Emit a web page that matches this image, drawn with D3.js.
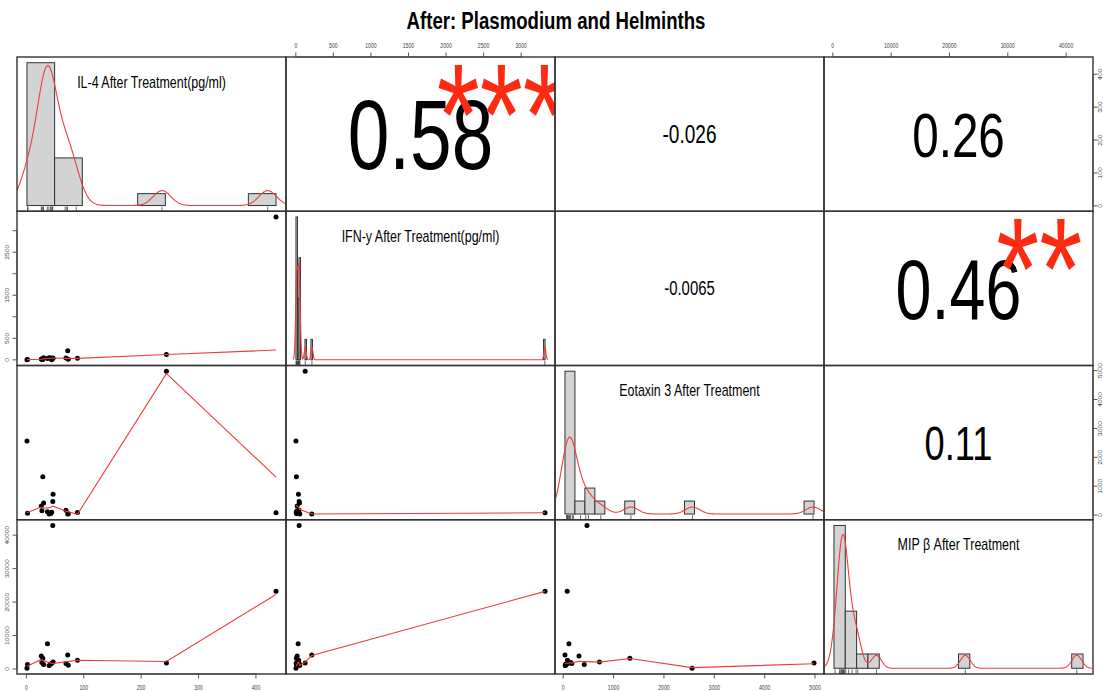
<!DOCTYPE html>
<html>
<head>
<meta charset="utf-8">
<script src="https://cdnjs.cloudflare.com/ajax/libs/d3/7.8.5/d3.min.js"></script>
<style>
  html, body { margin: 0; padding: 0; background: #fff; }
  svg { display: block; font-family: "Liberation Sans", Arial, sans-serif; }
</style>
</head>
<body>
<svg id="chart" width="1103" height="691"></svg>
<script>
// ---- data: one value per subject, same subject order in every array ----
const variableNames = [
  "IL-4 After Treatment(pg/ml)",
  "IFN-y After Treatment(pg/ml)",
  "Eotaxin 3 After Treatment",
  "MIP \u03B2 After Treatment"
];
const il4     = [435, 244, 46, 1, 28.6, 72, 89, 36.7, 26, 46.5, 2, 27, 30, 39.6, 42.5, 44, 69, 73];
const ifn     = [3318, 124, 44, 2, 8, 213, 38, 31, 18, 35, 10, 15, 48, 52, 45, 5, 42, 12];
const eotaxin = [80, 4980, 472, 2560, 1324, 35, 85, 114, 313, 720, 60, 150, 418, 40, 55, 100, 170, 45];
const mip     = [23200, 1800, 42900, 200, 3200, 4200, 2600, 7500, 3900, 2100, 1300, 1900, 1350, 1000, 1500, 1700, 1600, 1100];

// histogram bin widths per variable
const binWidths = [50, 20, 200, 2000];

// correlation coefficients (upper panels, row by row) and significance stars
const corrPairs  = [[0, 1], [0, 2], [0, 3], [1, 2], [1, 3], [2, 3]];
const corrText   = ["0.58", "-0.026", "0.26", "-0.0065", "0.46", "0.11"];
const corrStars  = ["***", "", "", "", "**", ""];

// axis ticks per variable and labels printed on them
const il4Ticks  = [0, 100, 200, 300, 400];
const ifnTicks  = [0, 500, 1000, 1500, 2000, 2500, 3000];
const eotTicks  = [0, 1000, 2000, 3000, 4000, 5000];
const mipTicks  = [0, 10000, 20000, 30000, 40000];
const ifnLeftLabels = ["0", "500", "", "1500", "", "2500", ""];

const title = "After: Plasmodium and Helminths";

// ---- layout ----
const svg = d3.select("#chart");
const L = 17, T = 57, R = 1093, B = 674;
const nv = 4;
const pw = (R - L) / nv, ph = (B - T) / nv;
const K = 0.76;                 // horizontal text compression
const FONT = "Liberation Sans, Arial, sans-serif";
const lineRed = "#ef3b3b";
const starRed = "#ff2a12";

const data = [il4, ifn, eotaxin, mip];
const ticks = [il4Ticks, ifnTicks, eotTicks, mipTicks];
const n = il4.length;

function px0(j) { return L + j * pw; }
function py0(i) { return T + i * ph; }

// scatter scales: data range extended 4% on each side
const sx = data.map((v, j) => {
  const [a, b] = d3.extent(v), e = 0.04 * (b - a);
  return d3.scaleLinear().domain([a - e, b + e]).range([px0(j), px0(j) + pw]);
});
const sy = data.map((v, i) => {
  const [a, b] = d3.extent(v), e = 0.04 * (b - a);
  return d3.scaleLinear().domain([a - e, b + e]).range([py0(i) + ph, py0(i)]);
});

// text measuring helper
const meas = svg.append("text").attr("font-family", FONT).attr("font-size", 100).attr("visibility", "hidden");
function natWidth(str, weight) {
  meas.attr("font-weight", weight || "normal").text(str);
  return meas.node().getComputedTextLength() / 100;
}

function addText(g, x, y, str, size, opts) {
  opts = opts || {};
  return g.append("text")
    .attr("transform", `translate(${x},${y}) scale(${K},1)`)
    .attr("text-anchor", opts.anchor || "middle")
    .attr("font-family", FONT)
    .attr("font-size", size)
    .attr("font-weight", opts.weight || "normal")
    .attr("fill", opts.fill || "#000")
    .text(str);
}

// clip paths per panel
const defs = svg.append("defs");
for (let i = 0; i < nv; i++) for (let j = 0; j < nv; j++) {
  defs.append("clipPath").attr("id", `clip-${i}-${j}`)
    .append("rect").attr("x", px0(j)).attr("y", py0(i)).attr("width", pw).attr("height", ph);
}

// ---- lowess (port of the classic clowess smoother) ----
function lowest(x, y, nn, xs, nleft, nright, userw, rw) {
  const range = x[nn - 1] - x[0];
  const h = Math.max(xs - x[nleft], x[nright] - xs);
  const h9 = 0.999 * h, h1 = 0.001 * h;
  const w = new Array(nn).fill(0);
  let a = 0, j = nleft;
  while (j < nn) {
    w[j] = 0;
    const r = Math.abs(x[j] - xs);
    if (r <= h9) {
      w[j] = r <= h1 ? 1 : Math.pow(1 - Math.pow(r / h, 3), 3);
      if (userw) w[j] *= rw[j];
      a += w[j];
    } else if (x[j] > xs) break;
    j++;
  }
  const nrt = j - 1;
  if (a <= 0) return { ok: false };
  for (j = nleft; j <= nrt; j++) w[j] /= a;
  if (h > 0) {
    a = 0;
    for (j = nleft; j <= nrt; j++) a += w[j] * x[j];
    let b = xs - a, c = 0;
    for (j = nleft; j <= nrt; j++) c += w[j] * (x[j] - a) * (x[j] - a);
    if (Math.sqrt(c) > 0.001 * range) {
      b /= c;
      for (j = nleft; j <= nrt; j++) w[j] *= (b * (x[j] - a) + 1);
    }
  }
  let ys = 0;
  for (j = nleft; j <= nrt; j++) ys += w[j] * y[j];
  return { ok: true, ys };
}

function lowess(xIn, yIn, f, iter) {
  const order = d3.range(xIn.length).sort((a, b) => xIn[a] - xIn[b]);
  const x = order.map(k => xIn[k]), y = order.map(k => yIn[k]);
  const nn = x.length;
  const delta = 0.01 * (x[nn - 1] - x[0]);
  const ys = new Array(nn).fill(0), rw = new Array(nn).fill(1), res = new Array(nn).fill(0);
  const ns = Math.max(2, Math.min(nn, Math.floor(f * nn + 1e-7)));
  for (let it = 0; it <= iter; it++) {
    let nleft = 0, nright = ns - 1, last = -1, i = 0;
    for (;;) {
      if (nright < nn - 1) {
        const d1 = x[i] - x[nleft], d2 = x[nright + 1] - x[i];
        if (d1 > d2) { nleft++; nright++; continue; }
      }
      const fit = lowest(x, y, nn, x[i], nleft, nright, it > 0, rw);
      ys[i] = fit.ok ? fit.ys : y[i];
      if (last < i - 1) {
        const denom = x[i] - x[last];
        for (let j = last + 1; j < i; j++) {
          const alpha = (x[j] - x[last]) / denom;
          ys[j] = alpha * ys[i] + (1 - alpha) * ys[last];
        }
      }
      last = i;
      const cut = x[last] + delta;
      for (i = last + 1; i < nn; i++) {
        if (x[i] > cut) break;
        if (x[i] === x[last]) { ys[i] = ys[last]; last = i; }
      }
      i = Math.max(last + 1, i - 1);
      if (last >= nn - 1) break;
    }
    for (let k = 0; k < nn; k++) res[k] = y[k] - ys[k];
    if (it >= iter) break;
    const sc = d3.sum(res, Math.abs) / nn;
    const absr = res.map(Math.abs);
    const cmad = 6 * d3.median(absr);
    if (cmad < 1e-7 * sc) break;
    const c9 = 0.999 * cmad, c1 = 0.001 * cmad;
    for (let k = 0; k < nn; k++) {
      const r = absr[k];
      rw[k] = r <= c1 ? 1 : (r > c9 ? 0 : Math.pow(1 - (r / cmad) * (r / cmad), 2));
    }
  }
  return x.map((xv, k) => [xv, ys[k]]);
}

// ---- gaussian kernel density with rule-of-thumb bandwidth ----
function density(v) {
  const s = d3.deviation(v);
  const iqr = d3.quantile(v, 0.75) - d3.quantile(v, 0.25);
  const bw = 0.9 * Math.min(s, iqr / 1.34) * Math.pow(v.length, -0.2);
  const [a, b] = d3.extent(v);
  const lo = a - 3 * bw, hi = b + 3 * bw;
  const grid = d3.range(512).map(k => lo + (hi - lo) * k / 511);
  const c = 1 / (v.length * bw * Math.sqrt(2 * Math.PI));
  return grid.map(g => [g, c * d3.sum(v, xi => Math.exp(-0.5 * Math.pow((g - xi) / bw, 2)))]);
}

// ---- title ----
addText(svg, 556, 29, title, 24.5, { weight: "bold" });

// ---- panels ----
const panels = svg.append("g");

for (let i = 0; i < nv; i++) {
  for (let j = 0; j < nv; j++) {
    const x0 = px0(j), y0 = py0(i);
    const g = panels.append("g");
    const inner = g.append("g").attr("clip-path", `url(#clip-${i}-${j})`);

    if (i > j) {
      // scatter with smoother: x = variable j, y = variable i
      const xs = sx[j], ys = sy[i];
      const lw = lowess(data[j], data[i], 2 / 3, 3);
      inner.selectAll("circle").data(d3.range(n)).join("circle")
        .attr("cx", k => xs(data[j][k]))
        .attr("cy", k => ys(data[i][k]))
        .attr("r", 2.5)
        .attr("fill", "#000");
      inner.append("path")
        .attr("d", d3.line().x(d => xs(d[0])).y(d => ys(d[1]))(lw))
        .attr("fill", "none")
        .attr("stroke", lineRed)
        .attr("stroke-width", 1.1);
    } else if (i === j) {
      // histogram (density scale) + kernel density + rug
      const v = data[i], w = binWidths[i];
      const nb = Math.ceil(d3.max(v) / w);
      const breaks = d3.range(nb + 1).map(k => k * w);
      const counts = new Array(nb).fill(0);
      v.forEach(val => { counts[Math.max(0, Math.ceil(val / w) - 1)]++; });
      const dens = counts.map(c => c / (n * w));
      const b0 = breaks[0], bn = breaks[nb];
      const hx = d3.scaleLinear()
        .domain([b0 - 0.04 * (bn - b0), bn + 0.04 * (bn - b0)])
        .range([x0, x0 + pw]);
      const md = d3.max(dens);
      const hy = d3.scaleLinear().domain([-0.04 * md, 1.04 * md]).range([y0 + ph, y0]);
      inner.selectAll("rect.bar").data(d3.range(nb).filter(k => counts[k] > 0)).join("rect")
        .attr("class", "bar")
        .attr("x", k => hx(breaks[k]))
        .attr("y", k => hy(dens[k]))
        .attr("width", k => hx(breaks[k + 1]) - hx(breaks[k]))
        .attr("height", k => hy(0) - hy(dens[k]))
        .attr("fill", "#d3d3d3")
        .attr("stroke", "#333")
        .attr("stroke-width", 1);
      const kde = density(v);
      inner.append("path")
        .attr("d", d3.line().x(d => hx(d[0])).y(d => hy(d[1]))(kde))
        .attr("fill", "none")
        .attr("stroke", lineRed)
        .attr("stroke-width", 1.1);
      inner.selectAll("line.rug").data(v).join("line")
        .attr("class", "rug")
        .attr("x1", d => hx(d)).attr("x2", d => hx(d))
        .attr("y1", y0 + ph).attr("y2", y0 + ph - 0.03 * ph)
        .attr("stroke", "#444").attr("stroke-width", 0.8);
      // variable label
      const ls = 16.4;
      addText(g, x0 + pw / 2, y0 + ph / 6 + 0.3 * ls, variableNames[i], ls);
    } else {
      // correlation text sized by |r|, stars for significance
      const idx = corrPairs.findIndex(p => p[0] === i && p[1] === j);
      const txt = corrText[idx];
      const r = Math.abs(+txt);
      const full = 0.8 * pw / (K * natWidth(txt));
      const fs = full * (r + 0.3) / 1.3;
      addText(inner, x0 + pw / 2, y0 + ph / 2 + 0.358 * fs, txt, fs);
      if (corrStars[idx]) {
        addText(inner, x0 + 0.8 * pw, y0 + 0.2 * ph + 0.53 * full, corrStars[idx], full, { fill: starRed });
      }
    }

    // panel box
    g.append("rect")
      .attr("x", x0).attr("y", y0).attr("width", pw).attr("height", ph)
      .attr("fill", "none").attr("stroke", "#333").attr("stroke-width", 1.4);
  }
}

// ---- axes on the outer margins ----
const axes = svg.append("g").attr("stroke", "#444").attr("fill", "none");
const tickLen = 4.5, tickFont = 6.8, tickCol = "#3a3a3a";

for (let j = 0; j < nv; j++) {
  const xs = sx[j], tk = ticks[j];
  const top = j % 2 === 1;
  const yAx = top ? T : B;
  const dir = top ? -1 : 1;
  axes.append("line").attr("x1", xs(tk[0])).attr("x2", xs(tk[tk.length - 1]))
    .attr("y1", yAx).attr("y2", yAx).attr("stroke-width", 0.9);
  tk.forEach(t => {
    axes.append("line").attr("x1", xs(t)).attr("x2", xs(t))
      .attr("y1", yAx).attr("y2", yAx + dir * tickLen).attr("stroke-width", 0.9);
    addText(svg, xs(t), top ? T - 9.5 : B + 16, String(t), tickFont, { fill: tickCol });
  });
}

for (let i = 0; i < nv; i++) {
  const ys = sy[i], tk = ticks[i];
  const left = i % 2 === 1;
  const xAx = left ? L : R;
  const dir = left ? -1 : 1;
  axes.append("line").attr("y1", ys(tk[0])).attr("y2", ys(tk[tk.length - 1]))
    .attr("x1", xAx).attr("x2", xAx).attr("stroke-width", 0.9);
  tk.forEach((t, k) => {
    axes.append("line").attr("y1", ys(t)).attr("y2", ys(t))
      .attr("x1", xAx).attr("x2", xAx + dir * tickLen).attr("stroke-width", 0.9);
    const lab = (i === 1) ? ifnLeftLabels[k] : String(t);
    if (lab) {
      // label centre, then shift to the baseline of the rotated text
      const xc = left ? L - 9.5 : R + 7.2;
      svg.append("text")
        .attr("transform", `translate(${xc + 0.36 * tickFont * K},${ys(t)}) scale(${K},1) rotate(-90)`)
        .attr("text-anchor", "middle")
        .attr("font-family", FONT)
        .attr("font-size", tickFont)
        .attr("fill", tickCol)
        .text(lab);
    }
  });
}

meas.remove();
</script>
</body>
</html>
